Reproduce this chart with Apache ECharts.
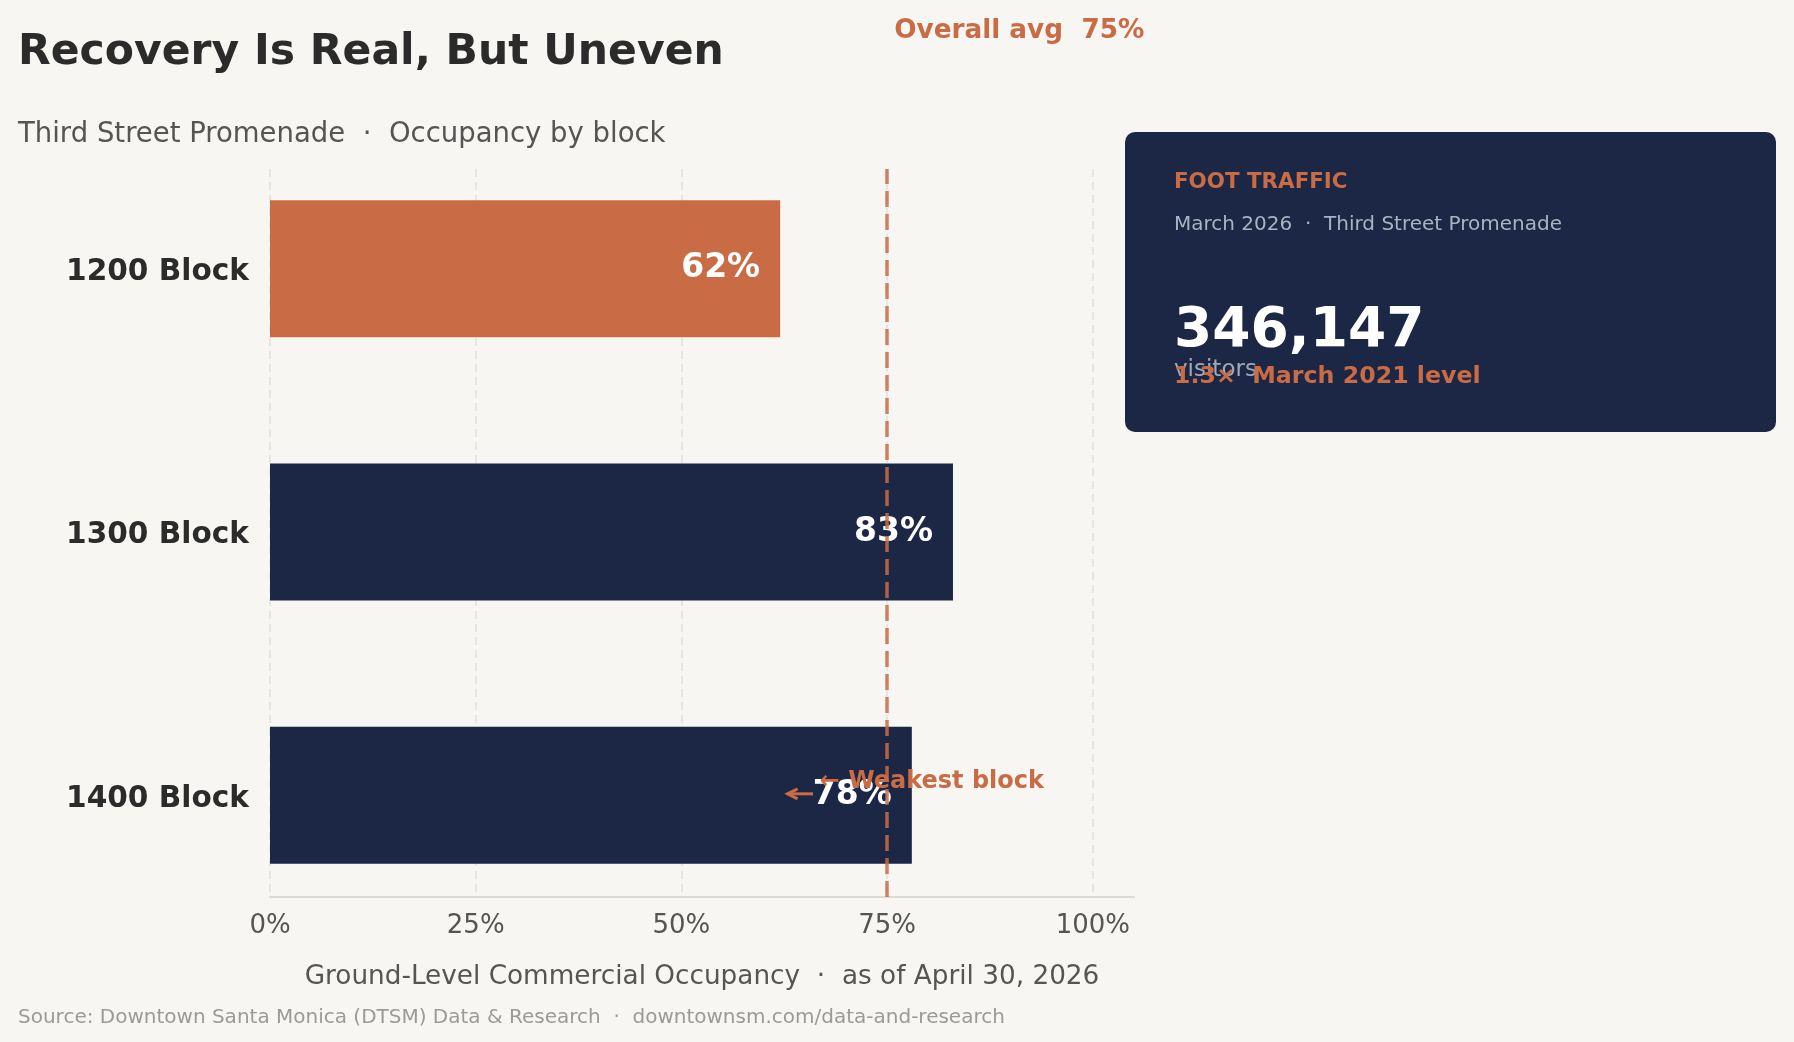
<!DOCTYPE html>
<html>
<head>
<meta charset="utf-8">
<script src="https://cdn.jsdelivr.net/npm/echarts@6/dist/echarts.min.js"></script>
<style>
    html, body { margin: 0; padding: 0; background: #f7f6f2; }
    #chart { width: 1794px; height: 1042px; }
</style>
</head>
<body>
<div id="chart"></div>
<script>
// data
var blocks = ['1200 Block', '1300 Block', '1400 Block'];
var occupancy = [62, 83, 78];
var overallAvg = 75;
var xTicks = [0, 25, 50, 75, 100];
var weakestBlock = '1200 Block';
var footTraffic = 346147;
var trafficRatio = 1.3;

var FONT = 'DejaVu Sans';
var ORANGE = '#c96c45';
var NAVY = '#1b2744';
var X_MAX = 105;

var chart = echarts.init(document.getElementById('chart'), null, {renderer: 'canvas'});

function txt(x, y, text, size, color, bold) {
    return {
        type: 'text', x: x, y: y, z: 100,
        style: {
            text: text,
            font: (bold ? 'bold ' : '') + size + 'px "' + FONT + '"',
            fill: color,
            align: 'left', verticalAlign: 'middle',
            textAlign: 'left', textVerticalAlign: 'middle'
        }
    };
}

var option = {
    backgroundColor: '#f7f6f2',
    animation: false,
    grid: [
        // bars (band spacing like the reference)
        {left: 270, top: 137, width: 864, height: 790},
        // visible axis + gridlines
        {left: 270, top: 169, width: 864, height: 728}
    ],
    xAxis: [
        {gridIndex: 0, type: 'value', min: 0, max: X_MAX, show: false},
        {
            gridIndex: 1, type: 'value', min: 0, max: X_MAX, interval: 25,
            axisLine: {show: true, lineStyle: {color: '#dadad6', width: 2}},
            axisTick: {show: false},
            axisLabel: {
                margin: 16, color: '#555', fontFamily: FONT, fontSize: 26,
                formatter: function (v) { return xTicks.indexOf(v) >= 0 ? v + '%' : ''; }
            },
            splitLine: {show: true, showMaxLine: false, lineStyle: {color: '#dfdfdc', width: 1.5, type: [8, 5]}},
            name: 'Ground-Level Commercial Occupancy  \u00b7  as of April 30, 2026',
            nameLocation: 'middle',
            nameGap: 67,
            nameTextStyle: {color: '#555', fontFamily: FONT, fontSize: 26.3}
        }
    ],
    yAxis: [
        {
            gridIndex: 0, type: 'category', data: blocks, inverse: true,
            axisLine: {show: false}, axisTick: {show: false}, splitLine: {show: false},
            axisLabel: {
                margin: 21, color: '#2b2b2b',
                formatter: '{b|{value}}',
                rich: {b: {fontFamily: FONT, fontSize: 29.6, fontWeight: 'bold', color: '#2b2b2b', padding: [7, 0, 0, 0]}}
            }
        },
        {gridIndex: 1, type: 'value', min: 0, max: 1, show: false}
    ],
    series: [
        {
            type: 'bar', xAxisIndex: 0, yAxisIndex: 0, barWidth: 137, z: 2,
            data: occupancy.map(function (v, i) {
                return {value: v, itemStyle: {color: blocks[i] === weakestBlock ? ORANGE : NAVY}};
            }),
            label: {
                show: true, position: 'insideRight', distance: 20, formatter: '{c}%',
                padding: [2, 0, 0, 0],
                color: '#fff', fontFamily: FONT, fontSize: 33, fontWeight: 'bold'
            }
        },
        {
            type: 'scatter', xAxisIndex: 1, yAxisIndex: 1, z: 10, silent: true,
            symbolSize: 0, data: [[overallAvg, 0]],
            markLine: {
                silent: true, symbol: 'none', z: 10,
                label: {show: false},
                lineStyle: {color: ORANGE, opacity: 0.85, width: 3.5, type: [16, 7]},
                data: [{xAxis: overallAvg}]
            }
        }
    ]
};

chart.setOption(option);

// annotations placed from data positions
var avgPx = chart.convertToPixel({gridIndex: 1}, [overallAvg, 1]);
var weakY = chart.convertToPixel({gridIndex: 0}, [0, blocks.length - 1])[1];
var headX = chart.convertToPixel({gridIndex: 0}, [62.9, 0])[0];
var tailX = chart.convertToPixel({gridIndex: 0}, [66, 0])[0];
var noteX = chart.convertToPixel({gridIndex: 0}, [66.8, 0])[0];
var ay = weakY - 1.5;

chart.setOption({
    graphic: [
        txt(18, 52.5, 'Recovery Is Real, But Uneven', 42.5, '#2b2b2b', true),
        txt(18, 135, 'Third Street Promenade  \u00b7  Occupancy by block', 27.5, '#555555', false),
        txt(18, 1017.5, 'Source: Downtown Santa Monica (DTSM) Data & Research  \u00b7  downtownsm.com/data-and-research', 20, '#9a9a9a', false),
        txt(avgPx[0] + 7, 31, 'Overall avg  ' + overallAvg + '%', 26.3, ORANGE, true),

        // arrow + note
        {type: 'line', z: 100, shape: {x1: tailX, y1: ay, x2: headX, y2: ay}, style: {stroke: ORANGE, lineWidth: 3}},
        {type: 'polyline', z: 100, shape: {points: [[headX + 10, ay - 5], [headX, ay], [headX + 10, ay + 5]]}, style: {stroke: ORANGE, lineWidth: 3, fill: null}},
        txt(noteX, weakY - 13.5, '\u2190 Weakest block', 24, ORANGE, true),

        // foot traffic card
        {type: 'rect', z: 90, shape: {x: 1125, y: 132, width: 651, height: 300, r: 10}, style: {fill: NAVY}},
        txt(1174, 182.5, 'FOOT TRAFFIC', 21.4, ORANGE, true),
        txt(1174, 224.5, 'March 2026  \u00b7  Third Street Promenade', 20, '#a9b3c4', false),
        txt(1174, 331.5, footTraffic.toLocaleString('en-US'), 55, '#ffffff', true),
        txt(1174, 370.5, 'visitors', 23, '#a0a9b9', false),
        txt(1174, 376.5, trafficRatio.toFixed(1) + '\u00d7  March 2021 level', 23.7, ORANGE, true)
    ]
});
</script>
</body>
</html>
